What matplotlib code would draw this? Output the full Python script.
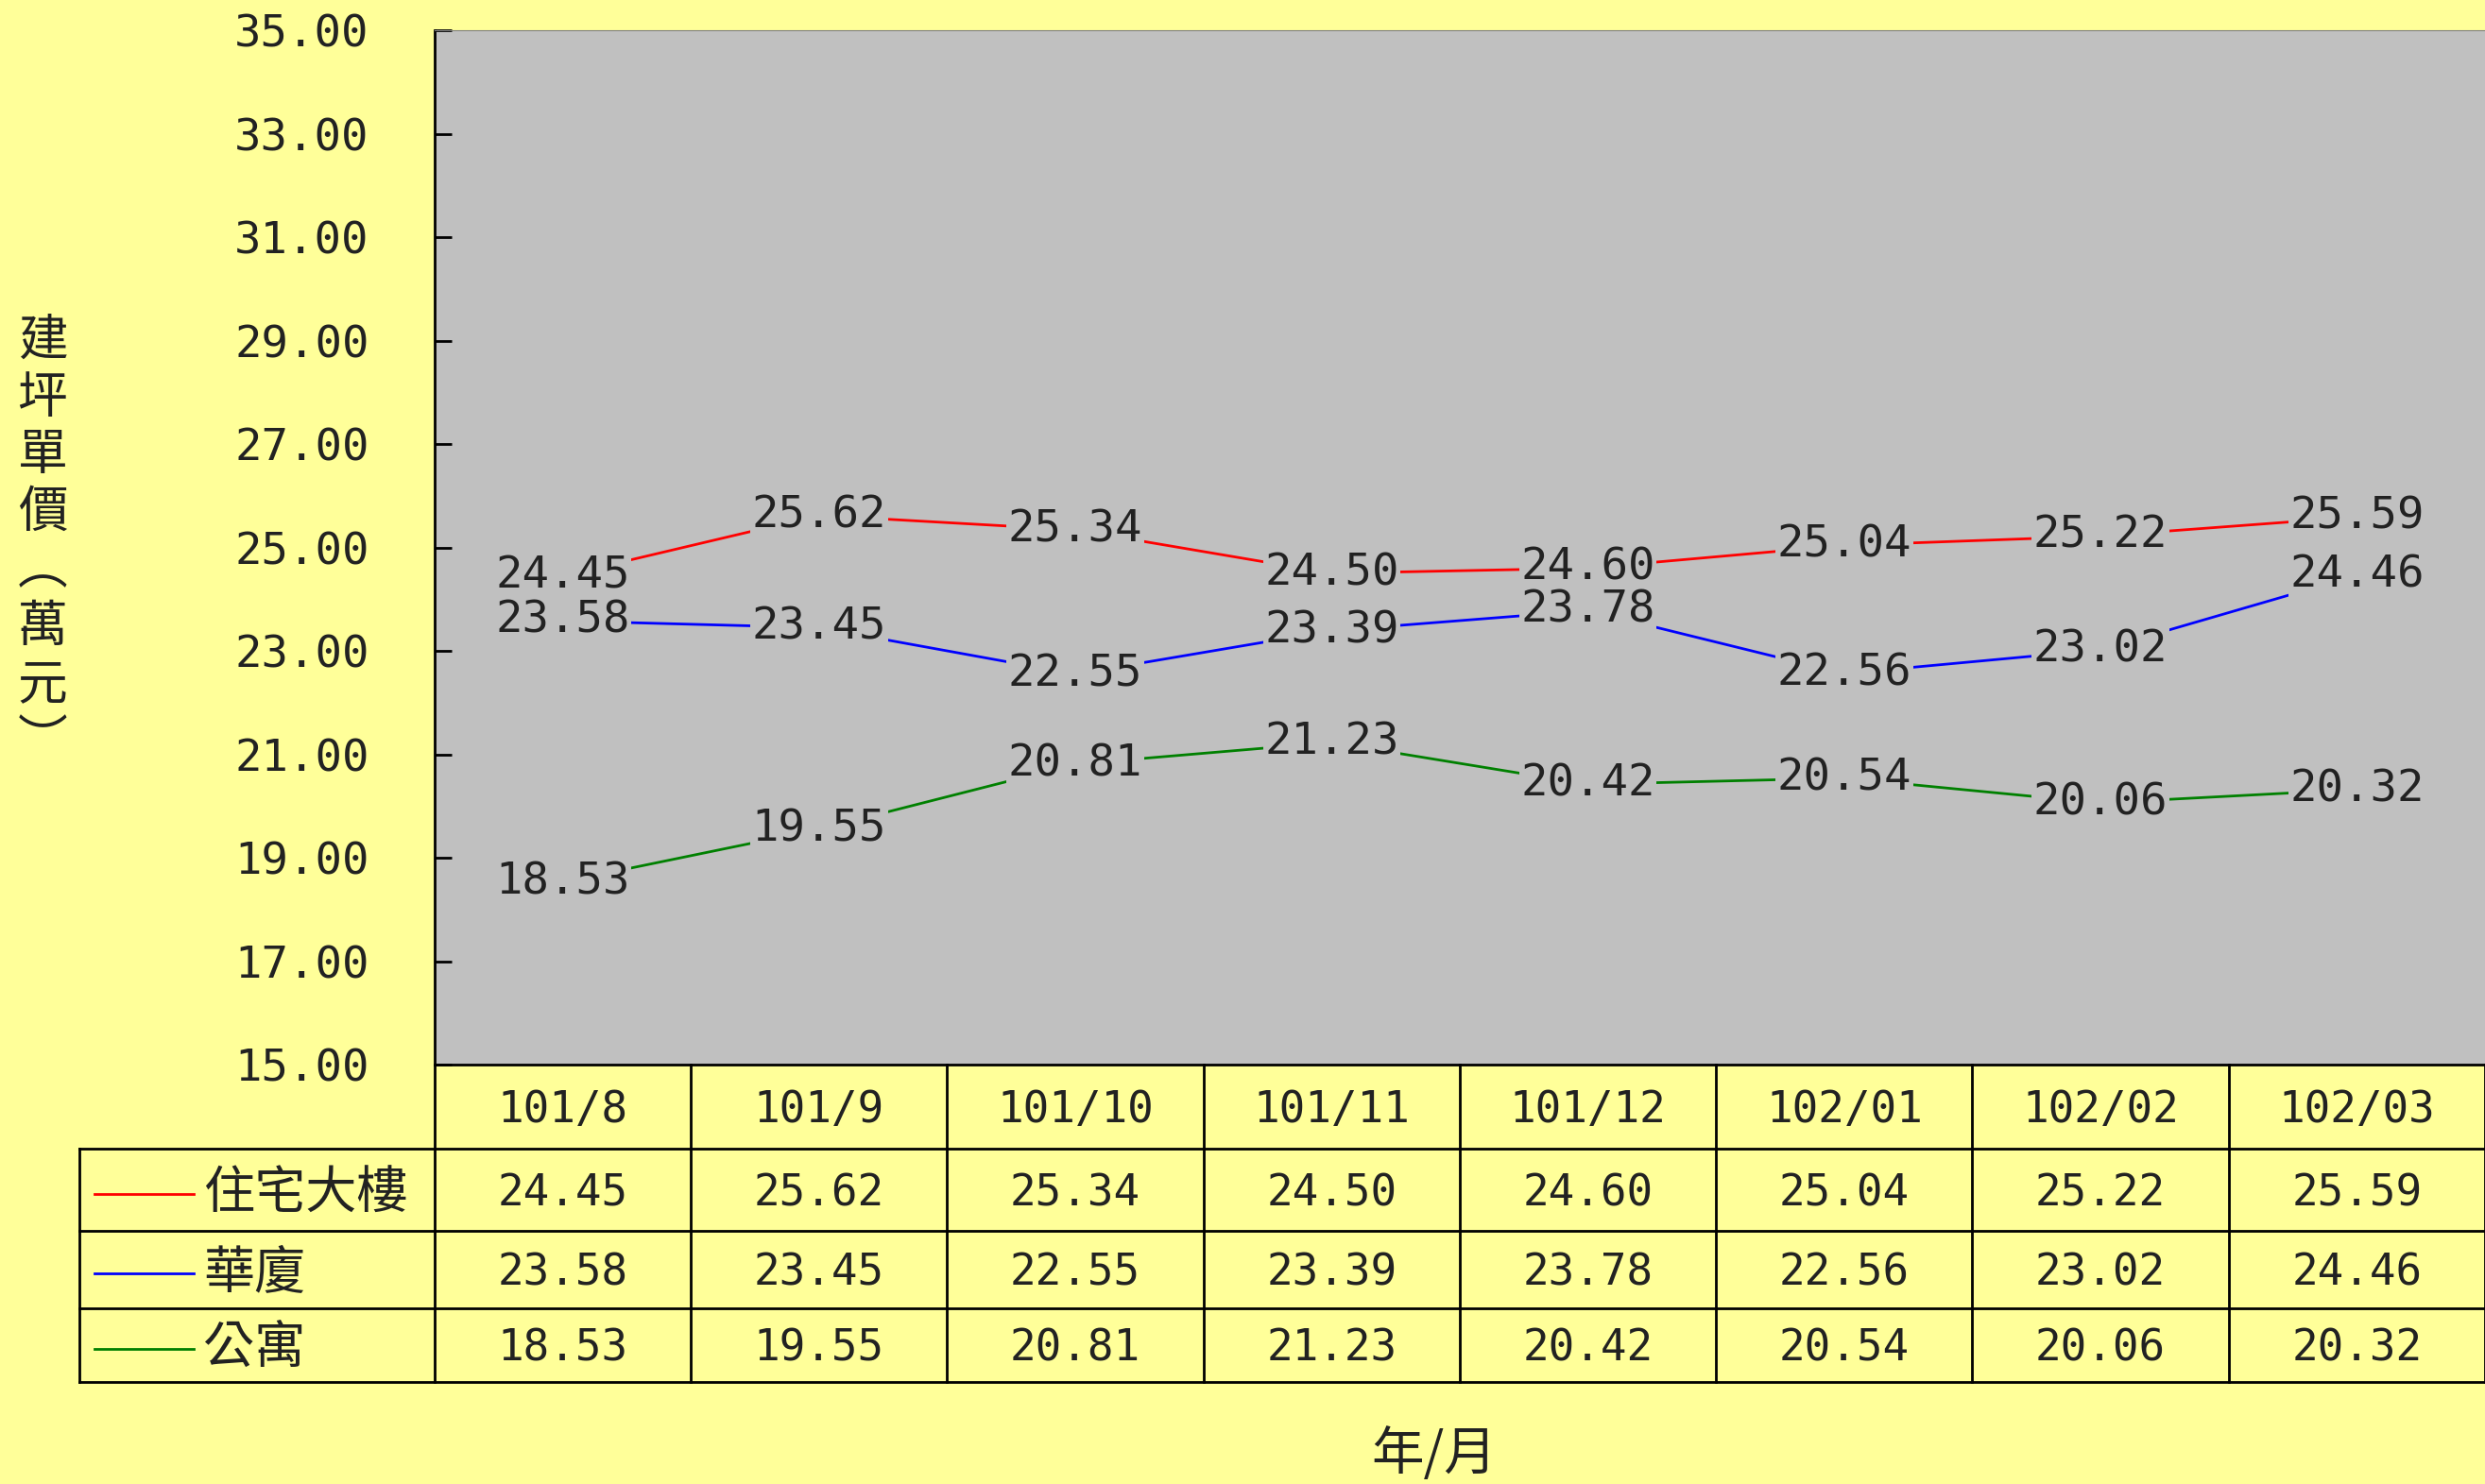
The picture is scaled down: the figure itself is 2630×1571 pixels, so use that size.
import matplotlib.pyplot as plt
import matplotlib.transforms as mtransforms

plt.rcParams['font.family'] = ['DejaVu Sans Mono', 'Noto Sans CJK TC']
plt.rcParams['axes.unicode_minus'] = False

# 資料
months = ["101/8", "101/9", "101/10", "101/11", "101/12", "102/01", "102/02", "102/03"]
series_names = ["住宅大樓", "華廈", "公寓"]
tower = [24.45, 25.62, 25.34, 24.50, 24.60, 25.04, 25.22, 25.59]
condo = [23.58, 23.45, 22.55, 23.39, 23.78, 22.56, 23.02, 24.46]
apartment = [18.53, 19.55, 20.81, 21.23, 20.42, 20.54, 20.06, 20.32]
y_ticks = [15, 17, 19, 21, 23, 25, 27, 29, 31, 33, 35]

series = [tower, condo, apartment]
colors = ["#FF0000", "#0000FF", "#008000"]
bg = "#FFFF99"
txt = "#222222"

fig = plt.figure(figsize=(26.3, 15.71), dpi=100, facecolor=bg)
ax = fig.add_axes([0.1749, 0.2826, 0.8251, 0.697])
ax.set_facecolor("#C0C0C0")

x = list(range(len(months)))
for vals, c in zip(series, colors):
    ax.plot(x, vals, color=c, linewidth=2, zorder=2)
    for xi, v in zip(x, vals):
        ax.text(xi, v, f"{v:.2f}", ha="center", va="center", fontsize=34, color=txt,
                zorder=3, bbox=dict(facecolor="#C0C0C0", edgecolor="none", pad=1))

ax.set_xlim(-0.5, len(months) - 0.5)
ax.set_ylim(15, 35)
ax.set_yticks(y_ticks)
ax.set_yticklabels([f"{t:.2f}" for t in y_ticks])
ax.set_xticks([])
ax.tick_params(axis="y", direction="in", length=13, width=2, pad=50, labelsize=34, labelcolor=txt)
for s in ["left", "bottom"]:
    ax.spines[s].set_linewidth(2)
    ax.spines[s].set_color("black")
ax.spines["top"].set_color("#808080")
ax.spines["right"].set_visible(False)

# 表格
tr = mtransforms.blended_transform_factory(ax.transData, ax.transAxes)
row_edges = [0, -0.0813, -0.1607, -0.2356, -0.3068]
left = -0.1733
dy = -0.004
lk = dict(color="black", linewidth=2, clip_on=False)
for i in range(len(months) + 1):
    ax.plot([i - 0.5, i - 0.5], [row_edges[0], row_edges[-1]], transform=tr, **lk)
ax.plot([left, left], [row_edges[1], row_edges[-1]], transform=ax.transAxes, **lk)
for yy in row_edges[1:]:
    ax.plot([left, 1], [yy, yy], transform=ax.transAxes, **lk)

for i, m in enumerate(months):
    ax.text(i, (row_edges[0] + row_edges[1]) / 2 + dy, m, transform=tr, ha="center", va="center",
            fontsize=33, color=txt)
for r, (name, vals, c) in enumerate(zip(series_names, series, colors)):
    yc = (row_edges[r + 1] + row_edges[r + 2]) / 2 + dy
    ax.plot([-0.1659, -0.1175], [yc, yc], transform=ax.transAxes, color=c, linewidth=2, clip_on=False)
    ax.text(-0.1129, yc, name, transform=ax.transAxes, ha="left", va="center", fontsize=39,
            color=txt, family=["Noto Sans CJK TC"])
    for i, v in enumerate(vals):
        ax.text(i, yc, f"{v:.2f}", transform=tr, ha="center", va="center", fontsize=33, color=txt)

# 軸標題
ylabel = "建坪單價︵萬元︶"
for k, ch in enumerate(ylabel):
    fig.text(0.0171, 0.7705 - k * 0.0386, ch, ha="center", va="center", fontsize=38,
             color=txt, family=["Noto Sans CJK TC"])
fig.text(0.577, 0.0197, "年/月", ha="center", va="center", fontsize=40, color=txt,
         family=["Noto Sans CJK TC"])

fig.savefig("out.png", dpi=100, facecolor=bg)
